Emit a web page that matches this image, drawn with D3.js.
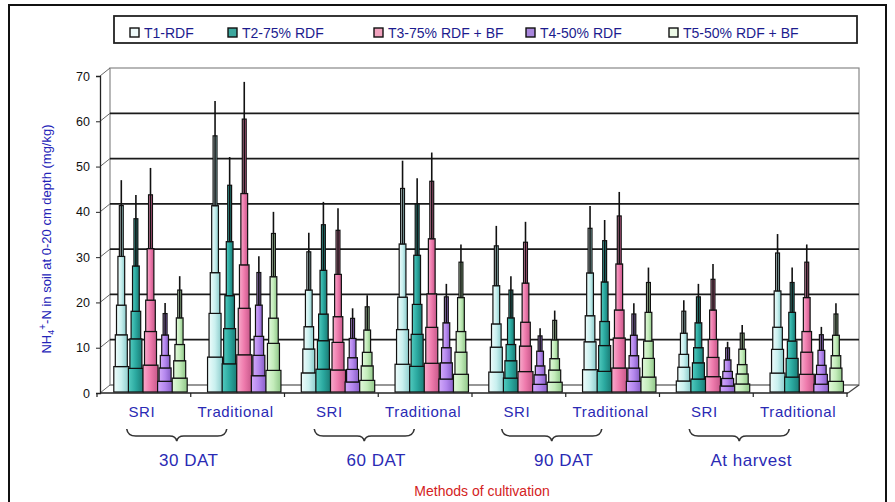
<!DOCTYPE html>
<html>
<head>
<meta charset="utf-8">
<script src="https://cdn.jsdelivr.net/npm/d3@7/dist/d3.min.js"></script>
<style>
  html, body { margin: 0; padding: 0; background: #fff; }
  svg { display: block; }
  text { font-family: "Liberation Sans", Arial, sans-serif; }
</style>
</head>
<body>
<svg id="chart" width="895" height="502"></svg>
<script>
// Sampling stages and cultivation methods
const stages = ["30 DAT", "60 DAT", "90 DAT", "At harvest"];
const methods = ["SRI", "Traditional"];

// Treatments (legend entries)
const treatments = ["T1-RDF", "T2-75% RDF", "T3-75% RDF + BF", "T4-50% RDF", "T5-50% RDF + BF"];

// NH4+-N (mg/kg) per treatment, in order: 30 DAT SRI, 30 DAT Trad, 60 DAT SRI, 60 DAT Trad,
// 90 DAT SRI, 90 DAT Trad, harvest SRI, harvest Trad
const t1Values = [47.0, 64.5, 35.4, 51.3, 36.9, 41.3, 20.5, 35.1];
const t2Values = [43.7, 52.1, 42.2, 47.4, 25.8, 38.2, 24.1, 27.7];
const t3Values = [49.7, 68.7, 40.8, 53.1, 37.8, 44.4, 28.5, 32.8];
const t4Values = [19.9, 30.2, 18.7, 24.1, 14.3, 19.8, 11.3, 14.6];
const t5Values = [25.8, 40.0, 21.6, 32.8, 18.2, 27.7, 15.0, 19.8];

const yTicks = [0, 10, 20, 30, 40, 50, 60, 70];

const seriesValues = [t1Values, t2Values, t3Values, t4Values, t5Values];
const categories = [];
stages.forEach(s => methods.forEach(m => categories.push(s + "|" + m)));

// Cone shading: light edge, body, shaded edge
const palette = [
  { light: "#eefcfb", base: "#c9f0ef", dark: "#8ccccc", key: "#eef9f9" },
  { light: "#52cbbf", base: "#2aa89f", dark: "#1a7a74", key: "#3ca79d" },
  { light: "#f8aacb", base: "#ee7aac", dark: "#c7588a", key: "#f0a2bd" },
  { light: "#d3aafa", base: "#b487ee", dark: "#875ec6", key: "#a886dc" },
  { light: "#e2f9dc", base: "#c3ecba", dark: "#90c789", key: "#ecf9e6" }
];

const svg = d3.select("#chart");

// Outer frame
svg.append("rect").attr("x", 9).attr("y", 5).attr("width", 877).attr("height", 520)
  .attr("fill", "#fff").attr("stroke", "#111").attr("stroke-width", 2);

// Plot geometry: front axis plane and back wall offset for the 3D depth
const left = 100, right = 848, depthX = 10, depthY = -8;
const yFront = d3.scaleLinear().domain([0, 70]).range([393, 76]);
const yBack = v => yFront(v) + depthY;

const x0 = d3.scaleBand().domain(categories).range([97, 847]).paddingInner(0).paddingOuter(0);
const x1 = d3.scaleBand().domain(treatments).range([17, 90]);

// Gradients
const defs = svg.append("defs");
palette.forEach((p, i) => {
  const g = defs.append("linearGradient").attr("id", "cone" + i)
    .attr("x1", 0).attr("x2", 1).attr("y1", 0).attr("y2", 0);
  g.append("stop").attr("offset", 0).attr("stop-color", p.light);
  g.append("stop").attr("offset", 0.5).attr("stop-color", p.base);
  g.append("stop").attr("offset", 1).attr("stop-color", p.dark);
});

// Back wall
const wallL = left + depthX, wallR = right + 11;
svg.append("rect").attr("x", wallL).attr("y", yBack(70))
  .attr("width", wallR - wallL).attr("height", yBack(0) - yBack(70))
  .attr("fill", "#fff").attr("stroke", "#888").attr("stroke-width", 1.2);

// Back-wall gridlines and left-wall diagonals
yTicks.forEach(v => {
  if (v > 0 && v < 70) {
    svg.append("line").attr("x1", wallL).attr("x2", wallR)
      .attr("y1", yBack(v)).attr("y2", yBack(v))
      .attr("stroke", "#1a1a1a").attr("stroke-width", 1.8);
  }
  svg.append("line").attr("x1", left).attr("x2", wallL)
    .attr("y1", yFront(v)).attr("y2", yBack(v))
    .attr("stroke", "#666").attr("stroke-width", 1);
});

// Floor edges
svg.append("line").attr("x1", wallL).attr("x2", wallR).attr("y1", yBack(0)).attr("y2", yBack(0))
  .attr("stroke", "#777").attr("stroke-width", 1.2);
svg.append("line").attr("x1", right).attr("x2", wallR).attr("y1", yFront(0)).attr("y2", yBack(0))
  .attr("stroke", "#444").attr("stroke-width", 1.2);

// Stepped cones
const tierBreaks = [0, 0.12, 0.27, 0.41, 0.64, 0.88, 1.0];
const tierWidth = [1, 0.8, 0.64, 0.45, 0.26];
const baseW = 15;

const bars = svg.append("g");
seriesValues.forEach((vals, si) => {
  vals.forEach((v, ci) => {
    const cx = x0(categories[ci]) + x1(treatments[si]) + x1.bandwidth() / 2;
    const y0 = yFront(0) - 1;
    const h = y0 - yFront(v);
    const g = bars.append("g");
    tierWidth.forEach((wf, k) => {
      const yb = y0 - h * tierBreaks[k];
      const yt = y0 - h * tierBreaks[k + 1];
      const w = baseW * wf;
      g.append("rect").attr("x", cx - w / 2).attr("y", yt)
        .attr("width", w).attr("height", yb - yt)
        .attr("fill", "url(#cone" + si + ")")
        .attr("stroke", "#111").attr("stroke-width", 1.2);
    });
    // spike to the apex
    g.append("line").attr("x1", cx).attr("x2", cx)
      .attr("y1", y0 - h * tierBreaks[4]).attr("y2", yFront(v))
      .attr("stroke", "#111").attr("stroke-width", 1.6);
  });
});

// Front y axis
const yAxis = d3.axisLeft(yFront).tickValues(yTicks).tickSize(4).tickPadding(6);
const ya = svg.append("g").attr("transform", `translate(${left},0)`).call(yAxis);
ya.select(".domain").attr("stroke", "#222").attr("stroke-width", 1.3);
ya.selectAll(".tick line").attr("stroke", "#222");
ya.selectAll(".tick text").attr("font-size", 12.5).attr("fill", "#111")
  .attr("font-family", "Liberation Sans, Arial, sans-serif");

// Front x axis with category boundary ticks
svg.append("line").attr("x1", left).attr("x2", right).attr("y1", yFront(0)).attr("y2", yFront(0))
  .attr("stroke", "#222").attr("stroke-width", 1.4);
const bounds = categories.map(c => x0(c)).concat([x0.range()[1]]);
svg.selectAll(".ctick").data(bounds).enter().append("line")
  .attr("x1", d => d).attr("x2", d => d)
  .attr("y1", yFront(0)).attr("y2", yFront(0) + 4)
  .attr("stroke", "#222").attr("stroke-width", 1.2);

// Method labels
svg.selectAll(".mlab").data(categories).enter().append("text")
  .attr("x", d => x0(d) + x0.bandwidth() / 2 - 2)
  .attr("y", 417)
  .attr("text-anchor", "middle")
  .attr("font-size", 15).attr("fill", "#2a2ab4")
  .attr("letter-spacing", 0.6)
  .text(d => d.split("|")[1]);

// Stage braces and labels
stages.forEach((s, i) => {
  const a = x0(s + "|" + methods[0]);
  const b = x0(s + "|" + methods[1]) + x0.bandwidth();
  const mid = (a + b) / 2;
  const tip = mid - 14, half = 52;
  const l = tip - half + 2, r = tip + half - 2;
  const yt = 429, ym = 436, yp = 441;
  const path = `M${l},${yt} Q${l + 1},${ym} ${l + 9},${ym} L${tip - 7},${ym} Q${tip - 1},${ym} ${tip},${yp}` +
               ` Q${tip + 1},${ym} ${tip + 7},${ym} L${r - 9},${ym} Q${r - 1},${ym} ${r},${yt}`;
  svg.append("path").attr("d", path).attr("fill", "none")
    .attr("stroke", "#333").attr("stroke-width", 1.6);
  svg.append("text").attr("x", mid - 2).attr("y", 466)
    .attr("text-anchor", "middle").attr("font-size", 17).attr("fill", "#2a2ab4")
    .attr("letter-spacing", 0.5)
    .text(s);
});

// X axis title
svg.append("text").attr("x", 482).attr("y", 496).attr("text-anchor", "middle")
  .attr("font-size", 14).attr("fill", "#d42222").text("Methods of cultivation");

// Y axis title
const yt = svg.append("text").attr("transform", "translate(51,239) rotate(-90)")
  .attr("text-anchor", "middle").attr("font-size", 13).attr("fill", "#2323b8");
yt.append("tspan").text("NH");
yt.append("tspan").attr("font-size", 9).attr("dy", 3).text("4");
yt.append("tspan").attr("font-size", 10).attr("dy", -8).text("+");
yt.append("tspan").attr("dy", 5).text("-N in soil at 0-20 cm depth (mg/kg)");

// Legend
const legend = svg.append("g");
legend.append("rect").attr("x", 114).attr("y", 16).attr("width", 743).attr("height", 27)
  .attr("fill", "#fff").attr("stroke", "#222").attr("stroke-width", 1.8);
const keyX = [130, 228, 374, 526, 669];
treatments.forEach((t, i) => {
  legend.append("rect").attr("x", keyX[i]).attr("y", 28).attr("width", 9).attr("height", 9)
    .attr("fill", palette[i].key).attr("stroke", "#111").attr("stroke-width", 1.4);
  legend.append("text").attr("x", keyX[i] + 14).attr("y", 38)
    .attr("font-size", 14).attr("fill", "#1c1c8e").text(t);
});
</script>
</body>
</html>
